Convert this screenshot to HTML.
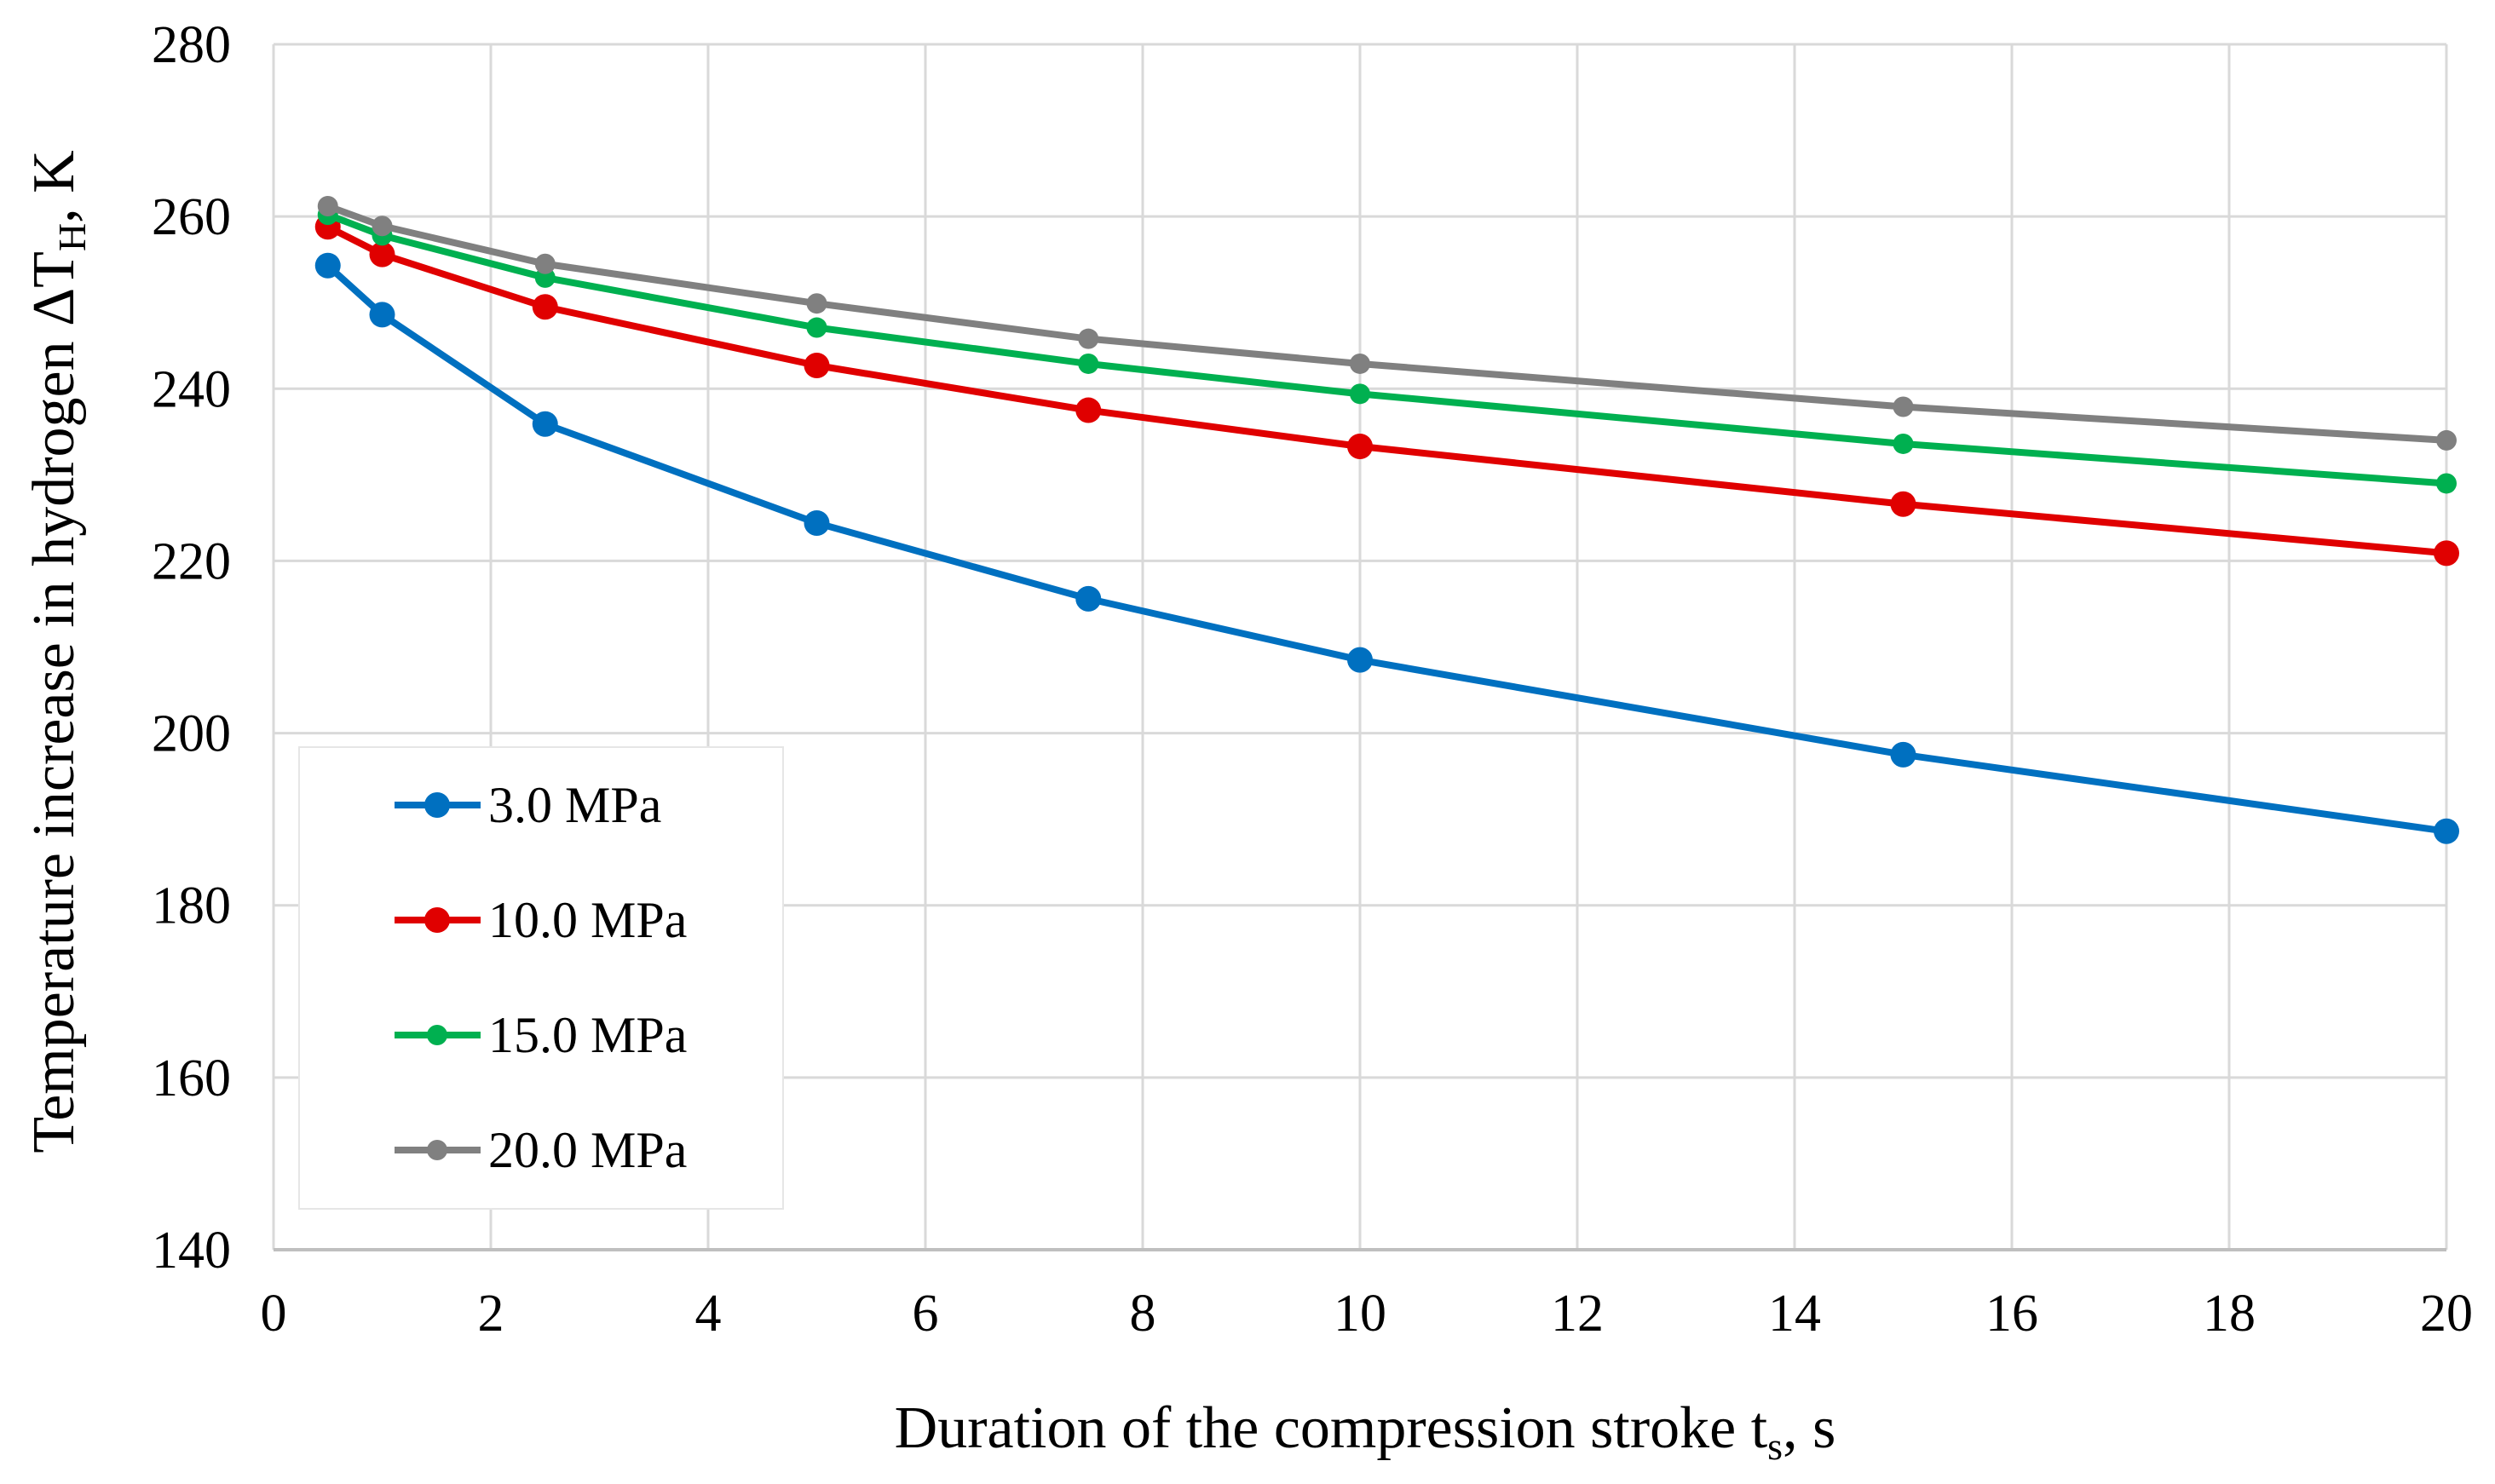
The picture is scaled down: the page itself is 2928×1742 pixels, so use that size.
<!DOCTYPE html>
<html><head><meta charset="utf-8"><style>
html,body{margin:0;padding:0;background:#fff}
svg{display:block}
text{font-family:"Liberation Serif",serif;fill:#000}
</style></head><body>
<svg id="chart" width="2928" height="1742" xmlns="http://www.w3.org/2000/svg">
<g id="grid"></g>
<g id="ticks"></g>
<g id="series"></g>
<text x="1602" y="1699" font-size="70" text-anchor="middle">Duration of the compression stroke t<tspan font-size="46" dy="14">s</tspan><tspan dy="-14">, s</tspan></text>
<text transform="translate(86,765) rotate(-90)" font-size="70" text-anchor="middle">Temperature increase in hydrogen  ΔT<tspan font-size="46" dy="14">H</tspan><tspan dy="-14">, K</tspan></text>
<g id="legend">
<rect x="351" y="877" width="568" height="542" fill="#fff" stroke="#e6e6e6" stroke-width="2"/>
</g>
</svg>
<script>
const xs = [0.5, 1, 2.5, 5, 7.5, 10, 15, 20];
const seriesNames = ["3.0 MPa", "10.0 MPa", "15.0 MPa", "20.0 MPa"];
const s3 = [254.3, 248.6, 235.9, 224.4, 215.6, 208.5, 197.5, 188.6];
const s10 = [258.8, 255.6, 249.5, 242.7, 237.5, 233.3, 226.6, 220.9];
const s15 = [260.2, 257.8, 252.9, 247.1, 242.9, 239.4, 233.6, 229.0];
const s20 = [261.2, 258.9, 254.5, 249.9, 245.8, 242.9, 237.9, 234.0];
const xTicks = [0,2,4,6,8,10,12,14,16,18,20];
const yTicks = [140,160,180,200,220,240,260,280];

const NS="http://www.w3.org/2000/svg";
const L=321,R=2871,T=52,B=1467;
const xMin=0,xMax=20,yMin=140,yMax=280;
function sx(v){return L+(v-xMin)/(xMax-xMin)*(R-L);}
function sy(v){return B-(v-yMin)/(yMax-yMin)*(B-T);}
function mk(tag,attrs,parent){const e=document.createElementNS(NS,tag);for(const k in attrs)e.setAttribute(k,attrs[k]);parent.appendChild(e);return e;}
const grid=document.getElementById('grid'),ticks=document.getElementById('ticks'),ser=document.getElementById('series'),leg=document.getElementById('legend');
xTicks.forEach(v=>{
  const ln=mk('line',{x1:sx(v),x2:sx(v),y1:T,y2:B,stroke:'#d9d9d9','stroke-width':3},grid);
  
  
  const t=mk('text',{x:sx(v),y:1562,'font-size':62,'text-anchor':'middle'},ticks);
  t.textContent=v;
  
  
});
yTicks.forEach(v=>{
  const ln=mk('line',{x1:L,x2:R,y1:sy(v),y2:sy(v),stroke:'#d9d9d9','stroke-width':3},grid);
  
  
  const t=mk('text',{x:271,y:sy(v)+21,'font-size':62,'text-anchor':'end'},ticks);
  t.textContent=v;
  
  
});
const ax=mk('line',{x1:L,x2:R,y1:B,y2:B,stroke:'#bfbfbf','stroke-width':4},grid);


const all=[s3,s10,s15,s20];
const colors=['#0070c0','#e00000','#00b050','#808080'];
const radii=[15,15,12,12];
all.forEach((ys,i)=>{
  const g=mk('g',{},ser);
  
  
  const pts=xs.map((x,j)=>sx(x)+','+sy(ys[j])).join(' ');
  const pl=mk('polyline',{points:pts,fill:'none',stroke:colors[i],'stroke-width':8,'stroke-linejoin':'round'},g);
  
  
  xs.forEach((x,j)=>{
    const c=mk('circle',{cx:sx(x),cy:sy(ys[j]),r:radii[i],fill:colors[i]},g);
    
    
  });
  const ly=945+i*135;
  const le=mk('g',{},leg);
  
  
  mk('line',{x1:463,x2:564,y1:ly,y2:ly,stroke:colors[i],'stroke-width':8},le);
  mk('circle',{cx:513,cy:ly,r:radii[i],fill:colors[i]},le);
  const t=mk('text',{x:573,y:ly+20,'font-size':60},le);
  t.textContent=seriesNames[i];
});
</script>
</body></html>
